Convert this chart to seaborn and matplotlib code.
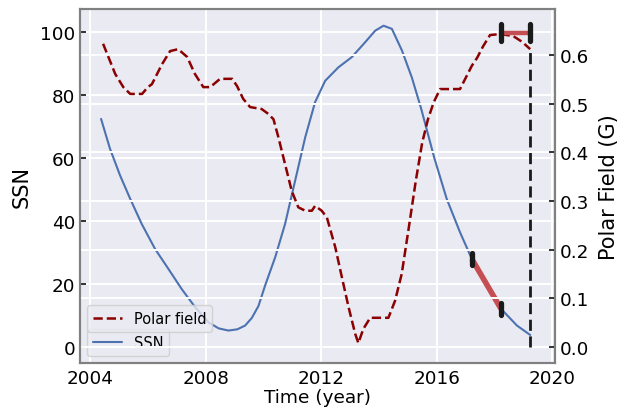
import numpy as np
import pandas as pd
import matplotlib
matplotlib.use("Agg")
import matplotlib.pyplot as plt
import seaborn as sns

# ---- data ----
ssn_year = [2004.38, 2004.69, 2005.04, 2005.39, 2005.79, 2006.25, 2006.71, 2007.17,
            2007.64, 2008.10, 2008.45, 2008.79, 2009.10, 2009.37, 2009.60, 2009.83,
            2010.06, 2010.41, 2010.75, 2011.10, 2011.45, 2011.79, 2012.14, 2012.60,
            2013.06, 2013.52, 2013.87, 2014.16, 2014.45, 2014.80, 2015.14, 2015.46,
            2015.92, 2016.35, 2016.81, 2017.22, 2017.74, 2018.23, 2018.78, 2019.24]
ssn_value = [72.4, 62.9, 54.4, 47.0, 39.0, 31.1, 24.8, 18.4,
             12.6, 7.8, 5.9, 5.2, 5.6, 6.8, 9.2, 13.0,
             19.5, 28.5, 39.0, 52.8, 66.6, 77.7, 84.5, 88.8,
             92.0, 96.7, 100.4, 102.0, 101.0, 94.1, 85.6, 75.8,
             60.0, 47.0, 36.4, 27.9, 19.5, 12.1, 6.8, 3.8]

polar_year = [2004.45, 2004.87, 2005.15, 2005.39, 2005.8, 2006.0, 2006.14, 2006.49,
              2006.77, 2007.05, 2007.36, 2007.63, 2007.92, 2008.16, 2008.5, 2008.92,
              2009.09, 2009.3, 2009.54, 2009.94, 2010.17, 2010.35, 2010.52, 2010.75,
              2010.98, 2011.21, 2011.45, 2011.68, 2011.79, 2012.02, 2012.2, 2012.49,
              2012.72, 2012.95, 2013.18, 2013.29, 2013.46, 2013.7, 2014.33, 2014.56,
              2014.79, 2015.02, 2015.28, 2015.5, 2015.7, 2015.9, 2016.12, 2016.81,
              2016.99, 2017.22, 2017.4, 2017.61, 2017.85, 2018.2, 2018.65, 2018.96,
              2019.24]
polar_value = [0.623, 0.561, 0.534, 0.520, 0.520, 0.534, 0.540, 0.581,
               0.608, 0.612, 0.596, 0.561, 0.534, 0.534, 0.551, 0.551,
               0.536, 0.510, 0.493, 0.489, 0.479, 0.468, 0.431, 0.376,
               0.321, 0.287, 0.280, 0.280, 0.290, 0.280, 0.266, 0.205,
               0.143, 0.082, 0.027, 0.008, 0.037, 0.060, 0.060, 0.095,
               0.150, 0.239, 0.342, 0.420, 0.468, 0.503, 0.530, 0.530,
               0.551, 0.578, 0.594, 0.618, 0.641, 0.643, 0.639, 0.627,
               0.612]

# prediction segments
ssn_pred_year = [2017.22, 2018.23]
ssn_pred_value = [27.9, 12.1]
ssn_pred_err = [2.0, 2.0]
polar_pred_year = [2018.23, 2019.24]
polar_pred_value = [0.646, 0.646]
polar_pred_err = [0.017, 0.017]
cut_year = 2019.24

xticks = [2004, 2008, 2012, 2016, 2020]
yticks_left = [0, 20, 40, 60, 80, 100]
yticks_right = [0.0, 0.1, 0.2, 0.3, 0.4, 0.5, 0.6]

# ---- style ----
sns.set_theme(style="darkgrid")
plt.rcParams["font.family"] = ["DejaVu Sans"]
plt.rcParams["grid.linewidth"] = 1.4
for k in ["text.color", "axes.labelcolor", "xtick.color", "ytick.color"]:
    plt.rcParams[k] = "black"

fig = plt.figure(figsize=(6.23, 4.10), dpi=100)
ax1 = fig.add_axes([0.1284, 0.1122, 0.7625, 0.8634])

df_ssn = pd.DataFrame({"year": ssn_year, "SSN": ssn_value})
df_pol = pd.DataFrame({"year": polar_year, "polar": polar_value})

sns.lineplot(data=df_ssn, x="year", y="SSN", ax=ax1, color="#4C72B0", lw=1.5,
             label="SSN", sort=False)
ax1.plot(ssn_pred_year, ssn_pred_value, color="#C44E52", lw=4, solid_capstyle="butt", zorder=3)
v1 = ax1.vlines(ssn_pred_year,
                [v - e for v, e in zip(ssn_pred_value, ssn_pred_err)],
                [v + e for v, e in zip(ssn_pred_value, ssn_pred_err)],
                colors="#1a1a1a", lw=3.8, zorder=4)
v1.set_capstyle("round")

ax2 = ax1.twinx()
sns.lineplot(data=df_pol, x="year", y="polar", ax=ax2, color="darkred", lw=1.8,
             linestyle="--", label="Polar field", sort=False)
ax2.plot(polar_pred_year, polar_pred_value, color="#C44E52", lw=3.2, zorder=3)
v2 = ax2.vlines(polar_pred_year,
                [v - e for v, e in zip(polar_pred_value, polar_pred_err)],
                [v + e for v, e in zip(polar_pred_value, polar_pred_err)],
                colors="#1a1a1a", lw=3.8, zorder=4)
v2.set_capstyle("round")
ax2.vlines([cut_year], [0], [polar_value[-1]], colors="#1a1a1a", lw=2,
           linestyles=(0, (4, 2)), zorder=4)

ax1.set_xlim(2003.65, 2020.1)
ax1.set_ylim(-5.1, 107.3)
ax2.set_ylim(-0.0329, 0.6945)
ax1.set_xticks(xticks)
ax1.set_yticks(yticks_left)
ax2.set_yticks(yticks_right)
ax2.set_yticklabels([f"{t:.1f}" for t in yticks_right])

ax1.set_xlabel("Time (year)", fontsize=13.3, labelpad=1)
ax1.set_ylabel("SSN", fontsize=15, labelpad=6)
ax2.set_ylabel("Polar Field (G)", fontsize=15, labelpad=7)
ax1.tick_params(axis="x", labelsize=13.2, bottom=False, length=0, pad=4)
ax1.tick_params(axis="y", labelsize=13.2, left=True, direction="in", length=4.5,
                width=1.3, pad=3.5, color="#222222")
ax2.tick_params(axis="y", labelsize=13.2, right=True, direction="in", length=4.5,
                width=1.3, pad=3.5, color="#222222")

for sp in list(ax1.spines.values()) + list(ax2.spines.values()):
    sp.set_visible(True)
    sp.set_color("#808080")
    sp.set_linewidth(1.5)

ax1.legend(loc="lower left", fontsize=10.5)
ax2.legend(loc="lower left", bbox_to_anchor=(0, 0.068), fontsize=10.5)

fig.savefig("out.png", dpi=100)
